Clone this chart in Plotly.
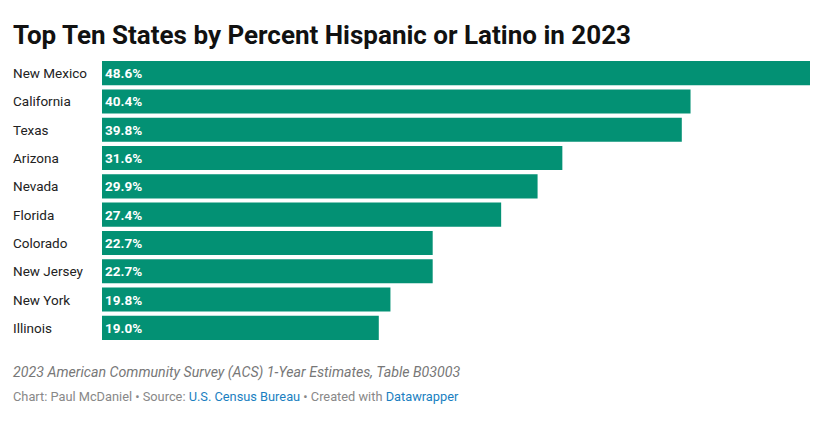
import plotly.graph_objects as go

states = ["New Mexico", "California", "Texas", "Arizona", "Nevada",
          "Florida", "Colorado", "New Jersey", "New York", "Illinois"]
pct = [48.6, 40.4, 39.8, 31.6, 29.9, 27.4, 22.7, 22.7, 19.8, 19.0]

# page body adds an 8px offset, so the figure is a little smaller
W, H = 832, 428
L, R, T, B = 94, 30, 51, 94
pw = W - L - R
ph = H - T - B
left = -(L - 3) / pw


def ypix(py):
    # page pixel y -> paper coords
    return 1 - ((py - 8) - T) / ph


fig = go.Figure(go.Bar(
    x=pct, y=states, orientation="h",
    marker=dict(color="#039174", line=dict(width=0)),
    text=[f"<b>{v:.1f}%</b>" for v in pct],
    textposition="inside", insidetextanchor="start",
    textfont=dict(color="white", size=13.5, family="Roboto"),
    textangle=0, hoverinfo="skip",
))

# state names on the left
for s in states:
    fig.add_annotation(x=left, y=s, xref="paper", yref="y",
                       text=s, showarrow=False, xanchor="left",
                       font=dict(size=13.5, color="#222", family="Roboto"))

fig.add_annotation(x=left, y=ypix(35), xref="paper", yref="paper",
                   text="<b>Top Ten States by Percent Hispanic or Latino in 2023</b>",
                   showarrow=False, xanchor="left", yanchor="middle",
                   font=dict(size=26, color="#111", family="Roboto"))
fig.add_annotation(x=left, y=ypix(372), xref="paper", yref="paper",
                   text="<i>2023 American Community Survey (ACS) 1-Year Estimates, Table B03003</i>",
                   showarrow=False, xanchor="left", yanchor="middle",
                   font=dict(size=14.2, color="#777", family="Roboto"))
fig.add_annotation(x=left, y=ypix(396), xref="paper", yref="paper",
                   text="Chart: Paul McDaniel • Source: <span style='color:#1a7fc1'>U.S. Census Bureau</span>"
                        " • Created with <span style='color:#1a7fc1'>Datawrapper</span>",
                   showarrow=False, xanchor="left", yanchor="middle",
                   font=dict(size=12.8, color="#888", family="Roboto"))

fig.update_layout(
    width=W, height=H, margin=dict(l=L, r=R, t=T, b=B),
    paper_bgcolor="white", plot_bgcolor="white",
    bargap=0.15, showlegend=False,
    xaxis=dict(range=[0, 48.6], visible=False, fixedrange=True),
    yaxis=dict(autorange="reversed", showticklabels=False, showgrid=False,
               zeroline=False, fixedrange=True),
    uniformtext=dict(minsize=13, mode="show"),
)

fig.write_html("out.html")
